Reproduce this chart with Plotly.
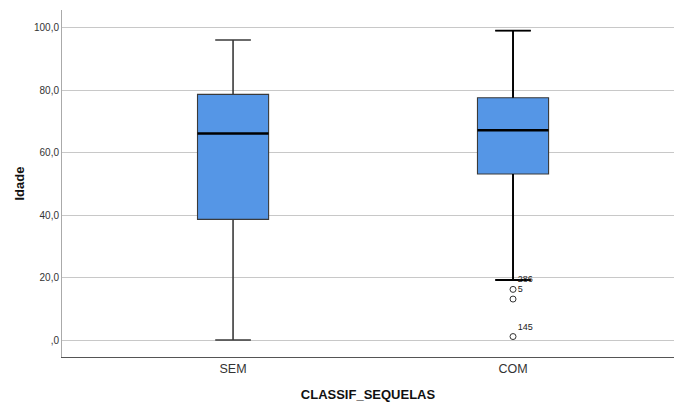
import plotly.graph_objects as go

categories = ["SEM", "COM"]
lower_fence = [0.0, 19.2]
q1 = [38.6, 53.1]
median = [66.1, 67.1]
q3 = [78.6, 77.5]
upper_fence = [96.0, 99.0]
outlier_values = [16.2, 13.1, 1.1]
outlier_labels = ["286", "5", "145"]
outlier_group = [1, 1, 1]
ytick_vals = [0, 20, 40, 60, 80, 100]
ytick_text = [",0", "20,0", "40,0", "60,0", "80,0", "100,0"]

BOX_W = 0.254
CAP_W = BOX_W / 2
FILL = "#5596E6"
FONT = "Liberation Sans, Arial, sans-serif"
whisker_colors = ["#3a3a3a", "#000000"]
whisker_widths = [1.1, 1.9]

fig = go.Figure()
xpos = list(range(len(categories)))
for i, c in enumerate(categories):
    fig.add_trace(go.Box(
        x=[xpos[i]], q1=[q1[i]], median=[median[i]], q3=[q3[i]],
        lowerfence=[lower_fence[i]], upperfence=[upper_fence[i]],
        width=BOX_W, whiskerwidth=0.5, fillcolor=FILL,
        line=dict(color="#3a3a3a", width=1.1),
        boxpoints=False, hoverinfo="skip", showlegend=False, name=c,
    ))
    x0 = xpos[i]
    # whiskers with caps
    fig.add_trace(go.Scatter(
        x=[x0, x0, None, x0 - CAP_W / 2, x0 + CAP_W / 2, None,
           x0, x0, None, x0 - CAP_W / 2, x0 + CAP_W / 2],
        y=[q3[i], upper_fence[i], None, upper_fence[i], upper_fence[i], None,
           q1[i], lower_fence[i], None, lower_fence[i], lower_fence[i]],
        mode="lines", line=dict(color=whisker_colors[i], width=whisker_widths[i]),
        hoverinfo="skip", showlegend=False, connectgaps=False,
    ))
    # thick median line
    fig.add_trace(go.Scatter(
        x=[x0 - BOX_W / 2, x0 + BOX_W / 2], y=[median[i], median[i]],
        mode="lines", line=dict(color="#000000", width=2.6),
        hoverinfo="skip", showlegend=False,
    ))

fig.add_trace(go.Scatter(
    x=[xpos[g] for g in outlier_group], y=outlier_values,
    mode="markers+text", text=outlier_labels, textposition="top right",
    textfont=dict(size=9, color="#222", family=FONT),
    marker=dict(symbol="circle-open", size=6, color="#333", line=dict(width=1)),
    hoverinfo="skip", showlegend=False,
))

fig.update_layout(
    width=674, height=405,
    margin=dict(l=62, r=0, t=10, b=48),
    paper_bgcolor="white", plot_bgcolor="white",
    font=dict(family=FONT, size=11, color="#333"),
)
fig.update_xaxes(
    range=[-0.611, 1.575], tickvals=xpos, ticktext=categories,
    showgrid=False, zeroline=False, showline=True, linecolor="#555", linewidth=1,
    ticks="", tickfont=dict(size=12.5, color="#333"),
    title=dict(text="<b>CLASSIF_SEQUELAS</b>", font=dict(size=13, color="#111"), standoff=14),
)
fig.update_yaxes(
    range=[-5.44, 105.6], tickvals=ytick_vals, ticktext=ytick_text,
    showgrid=True, gridcolor="#c8c8c8", gridwidth=1, zeroline=False,
    showline=True, linecolor="#aaaaaa", linewidth=1,
    ticks="", tickfont=dict(size=10, color="#333"),
    title=dict(text="<b>Idade</b>", font=dict(size=13, color="#111"), standoff=6),
)
fig.write_html("out.html", config={"displayModeBar": False})

with open("out.html", "r", encoding="utf-8") as f:
    html = f.read()
html = html.replace("<body>", '<body style="margin:0;padding:0;overflow:hidden">', 1)
with open("out.html", "w", encoding="utf-8") as f:
    f.write(html)
